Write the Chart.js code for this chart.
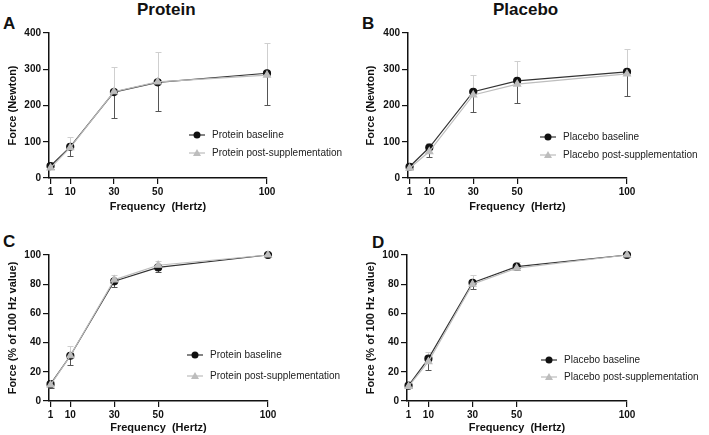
<!DOCTYPE html>
<html>
<head>
<meta charset="utf-8">
<script src="https://cdn.jsdelivr.net/npm/chart.js@4"></script>
<style>
	body { margin: 0; background: #fff; }
	#wrap { position: relative; width: 709px; height: 435px; font-family: 'Liberation Sans', Arial, sans-serif; }
	canvas { position: absolute; }
	.lbl { position: absolute; font-weight: bold; font-size: 17px; line-height: 17px; color: #111; white-space: nowrap; }
</style>
</head>
<body>
<div id="wrap">
	<div class="lbl" style="left:137px; top:1px;">Protein</div>
	<div class="lbl" style="left:493px; top:1px;">Placebo</div>
	<div class="lbl" style="left:3px; top:15px;">A</div>
	<div class="lbl" style="left:362px; top:15px;">B</div>
	<div class="lbl" style="left:3px; top:233px;">C</div>
	<div class="lbl" style="left:372px; top:234px;">D</div>
	<canvas id="chartA" width="354" height="217" style="left:0; top:0;"></canvas>
	<canvas id="chartB" width="355" height="217" style="left:354px; top:0;"></canvas>
	<canvas id="chartC" width="354" height="218" style="left:0; top:217px;"></canvas>
	<canvas id="chartD" width="355" height="218" style="left:354px; top:217px;"></canvas>
</div>
<script>
const freqs = [1, 10, 30, 50, 100];
const xTicks = [1, 10, 30, 50, 100];

// force in Newton, mean and SD
const proteinBaseN = [33, 86, 237, 264, 289];
const proteinBaseNSd = [9, 25, 72, 79, 88];
const proteinPostN = [28, 84, 238, 265, 284];
const proteinPostNSd = [8, 30, 69, 82, 88];
const placeboBaseN = [31, 84, 238, 268, 293];
const placeboBaseNSd = [5, 25, 55, 60, 66];
const placeboPostN = [27, 73, 229, 259, 287];
const placeboPostNSd = [5, 23, 54, 64, 69];

// force as % of the 100 Hz value
const proteinBasePct = [11.5, 31, 82, 91.5, 100];
const proteinBasePctSd = [2.5, 6.5, 4, 3, 0];
const proteinPostPct = [11, 31, 83, 93, 100];
const proteinPostPctSd = [2.5, 7, 3, 3, 0];
const placeboBasePct = [10.5, 29, 81, 92, 100];
const placeboBasePctSd = [1.5, 7.5, 4.5, 2, 0];
const placeboPostPct = [10, 27, 80, 91, 100];
const placeboPostPctSd = [1.5, 6.5, 6.5, 4.5, 0];

const FONT = "'Liberation Sans', Arial, sans-serif";
const DARK = '#111111';
const LIGHT = '#bdbdbd';

const errorBars = {
	id: 'errorBars',
	beforeDatasetsDraw(chart)
	{
		const ctx = chart.ctx;
		const xs = chart.scales.x;
		const ys = chart.scales.y;
		chart.data.datasets.forEach(ds => {
			ctx.save();
			ctx.strokeStyle = ds.errColor;
			ctx.lineWidth = 1;
			ds.data.forEach((p, i) => {
				const sd = ds.sd[i];
				if (!sd) return;
				const x = Math.round(xs.getPixelForValue(p.x)) + 0.5;
				const y0 = ys.getPixelForValue(p.y);
				const y1 = Math.round(ys.getPixelForValue(p.y + ds.errDir * sd)) + 0.5;
				ctx.beginPath();
				ctx.moveTo(x, y0);
				ctx.lineTo(x, y1);
				ctx.moveTo(x - 3, y1);
				ctx.lineTo(x + 3, y1);
				ctx.stroke();
			});
			ctx.restore();
		});
	}
};

const panelLegend = {
	id: 'panelLegend',
	afterDraw(chart, args, opts)
	{
		const ctx = chart.ctx;
		ctx.save();
		ctx.font = '10px ' + FONT;
		ctx.textBaseline = 'middle';
		opts.items.forEach((it, i) => {
			const y = opts.y + i * opts.gap;
			ctx.strokeStyle = it.line;
			ctx.lineWidth = 1.2;
			ctx.beginPath();
			ctx.moveTo(opts.x - 8, y);
			ctx.lineTo(opts.x + 8, y);
			ctx.stroke();
			ctx.fillStyle = it.color;
			ctx.beginPath();
			if (it.style === 'circle') {
				ctx.arc(opts.x, y, 3.5, 0, Math.PI * 2);
			} else {
				ctx.moveTo(opts.x, y - 4);
				ctx.lineTo(opts.x + 4, y + 3);
				ctx.lineTo(opts.x - 4, y + 3);
				ctx.closePath();
			}
			ctx.fill();
			ctx.fillStyle = '#222';
			ctx.fillText(it.text, opts.x + 15, y);
		});
		ctx.restore();
	}
};

function makePanel(id, cfg)
{
	const baseline = {
		label: cfg.name + ' baseline',
		data: freqs.map((f, i) => ({ x: f, y: cfg.base[i] })),
		sd: cfg.baseSd,
		errDir: -1,
		errColor: '#555',
		borderColor: '#333',
		backgroundColor: DARK,
		pointBackgroundColor: DARK,
		pointBorderColor: DARK,
		pointStyle: 'circle',
		pointRadius: 3.5,
		borderWidth: 1.2,
		clip: false,
	};
	const post = {
		label: cfg.name + ' post-supplementation',
		data: freqs.map((f, i) => ({ x: f, y: cfg.post[i] })),
		sd: cfg.postSd,
		errDir: 1,
		errColor: '#cfcfcf',
		borderColor: LIGHT,
		backgroundColor: LIGHT,
		pointBackgroundColor: LIGHT,
		pointBorderColor: LIGHT,
		pointStyle: 'triangle',
		pointRadius: 4,
		borderWidth: 1.2,
		clip: false,
	};

	return new Chart(document.getElementById(id), {
		type: 'line',
		data: { datasets: [post, baseline] },
		plugins: [errorBars, panelLegend],
		options: {
			responsive: false,
			animation: false,
			layout: { padding: cfg.padding },
			plugins: {
				legend: { display: false },
				tooltip: { enabled: false },
				panelLegend: {
					x: cfg.legend.x,
					y: cfg.legend.y,
					gap: cfg.legend.gap,
					items: [
						{ text: cfg.name + ' baseline', style: 'circle', color: DARK, line: '#333' },
						{ text: cfg.name + ' post-supplementation', style: 'triangle', color: LIGHT, line: LIGHT },
					],
				},
			},
			scales: {
				x: {
					type: 'linear',
					min: 0.3,
					max: 100,
					afterBuildTicks: s => { s.ticks = xTicks.map(v => ({ value: v })); },
					afterFit: s => { s.height = cfg.xHeight; },
					grid: { drawOnChartArea: false, drawTicks: true, tickLength: 6, color: '#111', lineWidth: 1.2 },
					border: { display: true, color: '#111', width: 1.5 },
					ticks: { color: '#111', font: { family: FONT, size: 10, weight: 'bold' }, padding: 2, maxRotation: 0 },
					title: { display: true, text: 'Frequency  (Hertz)', color: '#111', font: { family: FONT, size: 11, weight: 'bold' }, padding: { top: 0, bottom: cfg.xTitleGap } },
				},
				y: {
					min: 0,
					max: cfg.yMax,
					ticks: { stepSize: cfg.yStep, color: '#111', font: { family: FONT, size: 10, weight: 'bold' }, padding: 2 },
					afterFit: s => { s.width = cfg.yWidth; },
					grid: { drawOnChartArea: false, drawTicks: true, tickLength: 6, color: '#111', lineWidth: 1.2 },
					border: { display: true, color: '#111', width: 1.5 },
					title: { display: true, text: cfg.yTitle, color: '#111', font: { family: FONT, size: 11, weight: 'bold' }, padding: { top: 6, bottom: 0 } },
				},
			},
		},
	});
}

makePanel('chartA', {
	name: 'Protein', base: proteinBaseN, baseSd: proteinBaseNSd, post: proteinPostN, postSd: proteinPostNSd,
	yMax: 400, yStep: 100, yTitle: 'Force (Newton)',
	padding: { top: 33, right: 87, left: 0, bottom: 0 }, yWidth: 49, xHeight: 39, xTitleGap: 3,
	legend: { x: 197, y: 135, gap: 18 },
});
makePanel('chartB', {
	name: 'Placebo', base: placeboBaseN, baseSd: placeboBaseNSd, post: placeboPostN, postSd: placeboPostNSd,
	yMax: 400, yStep: 100, yTitle: 'Force (Newton)',
	padding: { top: 33, right: 82, left: 4, bottom: 0 }, yWidth: 50, xHeight: 39, xTitleGap: 3,
	legend: { x: 194, y: 137, gap: 18 },
});
makePanel('chartC', {
	name: 'Protein', base: proteinBasePct, baseSd: proteinBasePctSd, post: proteinPostPct, postSd: proteinPostPctSd,
	yMax: 100, yStep: 20, yTitle: 'Force (% of 100 Hz value)',
	padding: { top: 38, right: 86, left: 0, bottom: 0 }, yWidth: 49, xHeight: 34, xTitleGap: 0,
	legend: { x: 195, y: 138, gap: 21 },
});
makePanel('chartD', {
	name: 'Placebo', base: placeboBasePct, baseSd: placeboBasePctSd, post: placeboPostPct, postSd: placeboPostPctSd,
	yMax: 100, yStep: 20, yTitle: 'Force (% of 100 Hz value)',
	padding: { top: 38, right: 82, left: 4, bottom: 0 }, yWidth: 49, xHeight: 34, xTitleGap: 0,
	legend: { x: 195, y: 143, gap: 17 },
});
</script>
</body>
</html>
